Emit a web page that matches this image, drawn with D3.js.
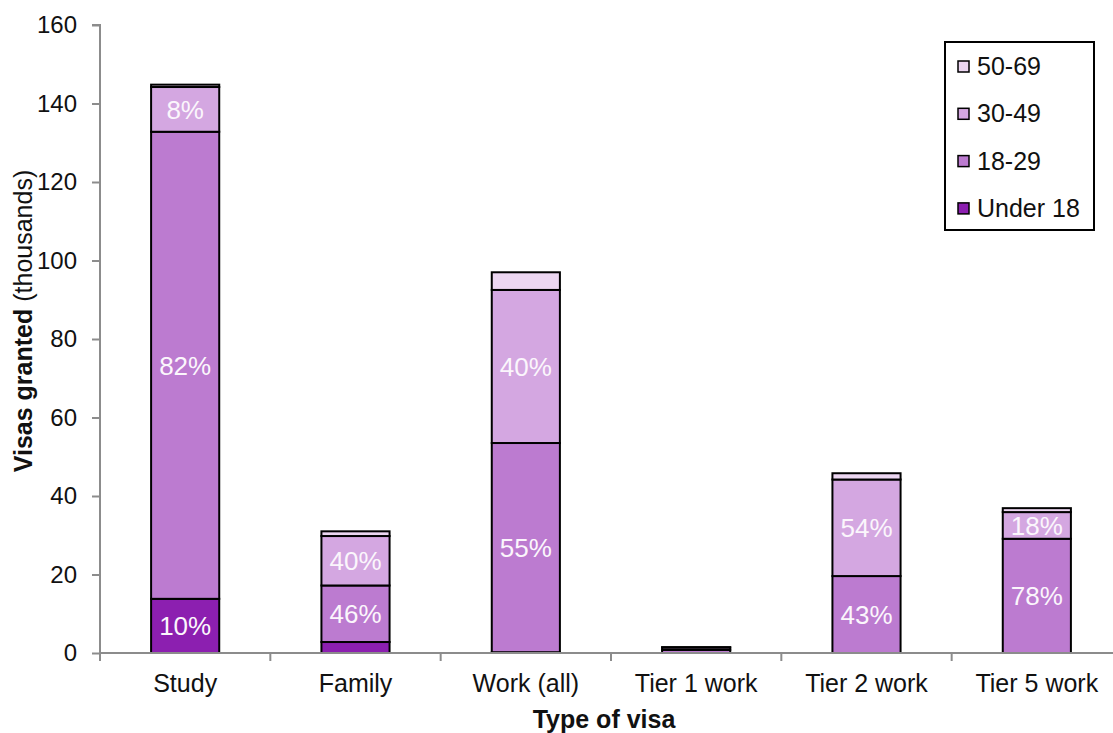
<!DOCTYPE html>
<html>
<head>
<meta charset="utf-8">
<script src="https://cdnjs.cloudflare.com/ajax/libs/d3/7.8.5/d3.min.js"></script>
<style>
  html, body { margin: 0; padding: 0; background: #fff; }
  svg { display: block; font-family: "Liberation Sans", Arial, sans-serif; }
</style>
</head>
<body>
<svg id="chart" width="1113" height="733"></svg>
<script>
// Visas granted by type of visa and age group (thousands)
const categories = ["Study", "Family", "Work (all)", "Tier 1 work", "Tier 2 work", "Tier 5 work"];
const ageGroups = ["Under 18", "18-29", "30-49", "50-69"];

const under18 = [13.8, 2.8, 0.2, 0, 0, 0];
const age18to29 = [119.0, 14.4, 53.3, 0.8, 19.6, 29.1];
const age30to49 = [11.4, 12.6, 39.0, 0.6, 24.6, 6.8];
const age50to69 = [0.6, 1.2, 4.5, 0.1, 1.6, 1.0];

// Share labels shown inside segments (null = no label)
const labelsUnder18 = ["10%", null, null, null, null, null];
const labels18to29 = ["82%", "46%", "55%", null, "43%", "78%"];
const labels30to49 = ["8%", "40%", "40%", null, "54%", "18%"];
const labels50to69 = [null, null, null, null, null, null];

const yTicks = [0, 20, 40, 60, 80, 100, 120, 140, 160];
const colors = ["#8c1fb0", "#bc7bd0", "#d4a7e1", "#ecd6f1"];

const seriesValues = [under18, age18to29, age30to49, age50to69];
const seriesLabels = [labelsUnder18, labels18to29, labels30to49, labels50to69];

const rows = categories.map((c, i) => {
  const r = { category: c };
  ageGroups.forEach((g, k) => { r[g] = seriesValues[k][i]; });
  return r;
});
const stacked = d3.stack().keys(ageGroups)(rows);

const svg = d3.select("#chart");
const margin = { left: 100, top: 25, bottom: 80 };
const plotW = 1022;
const plotH = 733 - margin.top - margin.bottom;
const FONT = "Liberation Sans, Arial, sans-serif";

const x = d3.scaleBand().domain(categories).range([margin.left, margin.left + plotW])
  .paddingInner(0.6).paddingOuter(0.3);
const y = d3.scaleLinear().domain([0, 160]).range([margin.top + plotH, margin.top]);

// Bars
const g = svg.append("g");
stacked.forEach((layer, k) => {
  g.append("g").selectAll("rect").data(layer).join("rect")
    .attr("x", d => x(d.data.category))
    .attr("width", x.bandwidth())
    .attr("y", d => y(d[1]))
    .attr("height", d => Math.max(0, y(d[0]) - y(d[1])))
    .attr("fill", colors[k])
    .attr("stroke", d => (d[1] - d[0]) > 0 ? "#000" : "none")
    .attr("stroke-width", 2);
});

// Segment labels
stacked.forEach((layer, k) => {
  g.append("g").selectAll("text").data(layer.map((d, i) => ({ d, label: seriesLabels[k][i] })).filter(o => o.label))
    .join("text")
    .attr("x", o => x(o.d.data.category) + x.bandwidth() / 2)
    .attr("y", o => (y(o.d[0]) + y(o.d[1])) / 2)
    .attr("dy", "0.36em")
    .attr("text-anchor", "middle")
    .attr("fill", "#fbf6fc")
    .attr("font-size", 26)
    .text(o => o.label);
});

// Y axis
const yAxis = d3.axisLeft(y).tickValues(yTicks).tickSize(8).tickPadding(15);
const ya = svg.append("g").attr("transform", `translate(${margin.left},0)`).call(yAxis);
ya.select(".domain").attr("stroke", "#8c8c8c").attr("stroke-width", 2).attr("d", `M-8,${y(160)}H0V${y(0)}`);
ya.selectAll(".tick line").attr("stroke", "#8c8c8c").attr("stroke-width", 2);
ya.selectAll(".tick text").attr("font-size", 24).attr("fill", "#111").attr("font-family", FONT);

// X axis
const xAxis = d3.axisBottom(x).tickSize(0).tickPadding(21);
const xa = svg.append("g").attr("transform", `translate(0,${y(0)})`).call(xAxis);
xa.select(".domain").attr("stroke", "#8c8c8c").attr("stroke-width", 2).attr("d", `M${margin.left},0H${margin.left + plotW}`);
xa.selectAll(".tick text").attr("font-size", 25).attr("fill", "#111").attr("font-family", FONT);
// category separators
const step = x.step();
xa.append("g").selectAll("line").data(d3.range(categories.length + 1)).join("line")
  .attr("x1", i => margin.left + i * step).attr("x2", i => margin.left + i * step)
  .attr("y1", 0).attr("y2", 8)
  .attr("stroke", "#8c8c8c").attr("stroke-width", 2);

// Axis titles
svg.append("text")
  .attr("x", 604).attr("y", 728)
  .attr("text-anchor", "middle").attr("font-size", 25).attr("font-weight", "bold").attr("fill", "#111")
  .text("Type of visa");
svg.append("text")
  .attr("transform", "translate(32,321) rotate(-90)")
  .attr("text-anchor", "middle").attr("font-size", 25).attr("fill", "#111")
  .call(t => {
    t.append("tspan").attr("font-weight", "bold").text("Visas granted ");
    t.append("tspan").attr("font-weight", "normal").text("(thousands)");
  });

// Legend
const legend = svg.append("g").attr("transform", "translate(945,42)");
legend.append("rect").attr("width", 149).attr("height", 188)
  .attr("fill", "#fff").attr("stroke", "#000").attr("stroke-width", 2);
const legendOrder = ageGroups.slice().reverse();
legendOrder.forEach((name, i) => {
  const k = ageGroups.indexOf(name);
  const row = legend.append("g").attr("transform", `translate(13,${24 + i * 47.3})`);
  row.append("rect").attr("x", 0).attr("y", -5).attr("width", 11).attr("height", 11)
    .attr("fill", colors[k]).attr("stroke", "#000").attr("stroke-width", 1.5);
  row.append("text").attr("x", 19).attr("y", 0).attr("dy", "0.36em")
    .attr("font-size", 25).attr("fill", "#111").text(name);
});
</script>
</body>
</html>
